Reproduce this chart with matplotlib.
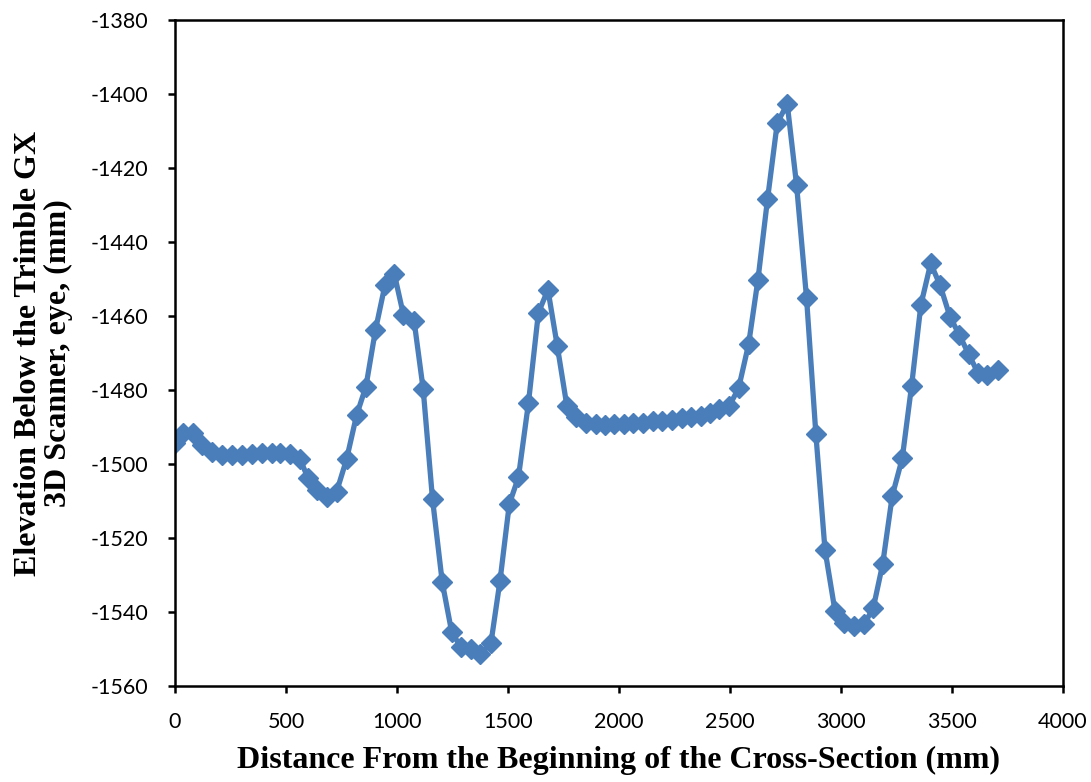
import matplotlib
matplotlib.use("Agg")
import matplotlib.pyplot as plt

plt.rcParams['axes.unicode_minus'] = False

distance_mm = [0, 37, 82, 120, 165, 210, 255, 300, 345, 390, 435, 473, 518, 563,
               600, 638, 683, 728, 773, 818, 860, 903, 946, 988, 1029, 1077, 1118,
               1160, 1204, 1246, 1288, 1332, 1374, 1423, 1464, 1506, 1547, 1592,
               1637, 1680, 1722, 1765, 1805, 1851, 1895, 1937, 1979, 2023, 2065,
               2110, 2152, 2195, 2237, 2282, 2324, 2368, 2410, 2452, 2497, 2539,
               2584, 2626, 2669, 2713, 2758, 2800, 2845, 2887, 2928, 2973, 3015,
               3060, 3105, 3146, 3188, 3231, 3276, 3318, 3360, 3404, 3446, 3491,
               3533, 3576, 3618, 3660, 3708]
elevation_mm = [-1494.4, -1491.7, -1491.5, -1494.9, -1496.7, -1497.6, -1497.6,
                -1497.6, -1497.3, -1497.1, -1497.1, -1496.9, -1497.3, -1498.7,
                -1503.9, -1507.0, -1508.8, -1507.5, -1498.7, -1486.8, -1479.1,
                -1463.8, -1451.6, -1448.6, -1459.7, -1461.3, -1479.8, -1509.5,
                -1532.0, -1545.3, -1549.6, -1550.1, -1551.4, -1548.5, -1531.6,
                -1510.8, -1503.6, -1483.6, -1459.1, -1452.9, -1468.1, -1484.2,
                -1487.2, -1488.8, -1489.2, -1489.5, -1489.3, -1489.2, -1489.0,
                -1488.8, -1488.5, -1488.3, -1488.1, -1487.6, -1487.4, -1486.9,
                -1486.3, -1485.2, -1484.3, -1479.5, -1467.6, -1450.2, -1428.5,
                -1407.8, -1402.7, -1424.6, -1455.2, -1492.0, -1523.2, -1539.7,
                -1542.9, -1543.8, -1543.3, -1538.8, -1527.0, -1508.6, -1498.5,
                -1478.9, -1457.0, -1445.8, -1451.6, -1460.2, -1465.1, -1470.4,
                -1475.5, -1476.0, -1474.6]

x_ticks = [0, 500, 1000, 1500, 2000, 2500, 3000, 3500, 4000]
y_ticks = [-1560, -1540, -1520, -1500, -1480, -1460, -1440, -1420, -1400, -1380]

fig = plt.figure(figsize=(10.91, 7.82), dpi=100)
ax = fig.add_axes([0.1604, 0.1228, 0.8139, 0.8516])

ax.plot(distance_mm, elevation_mm, color='#4A7EBB', linewidth=3.8,
        marker='D', markersize=10.5, markerfacecolor='#4A7EBB',
        markeredgecolor='#4A7EBB', solid_joinstyle='round')

ax.set_xlim(0, 4000)
ax.set_ylim(-1560, -1380)
ax.set_xticks(x_ticks)
ax.set_yticks(y_ticks)
ax.set_xticklabels([str(v) for v in x_ticks])
ax.set_yticklabels([str(v) for v in y_ticks])

for s in ax.spines.values():
    s.set_linewidth(1.8)
    s.set_color('black')
ax.tick_params(axis='both', direction='out', length=5, width=1.8,
               labelsize=15.5)
ax.tick_params(axis='y', pad=14)
ax.tick_params(axis='x', pad=14)
for lab in ax.get_xticklabels() + ax.get_yticklabels():
    lab.set_family(['Lato', 'DejaVu Sans'])

ax.set_xlabel('Distance From the Beginning of the Cross-Section (mm)',
              family='Liberation Serif', fontweight='bold', fontsize=23,
              labelpad=10)
ax.set_ylabel('Elevation Below the Trimble GX\n3D Scanner, eye, (mm)',
              family='Liberation Serif', fontweight='bold', fontsize=23,
              labelpad=13, linespacing=1.05)

fig.savefig('out.png', dpi=100)
